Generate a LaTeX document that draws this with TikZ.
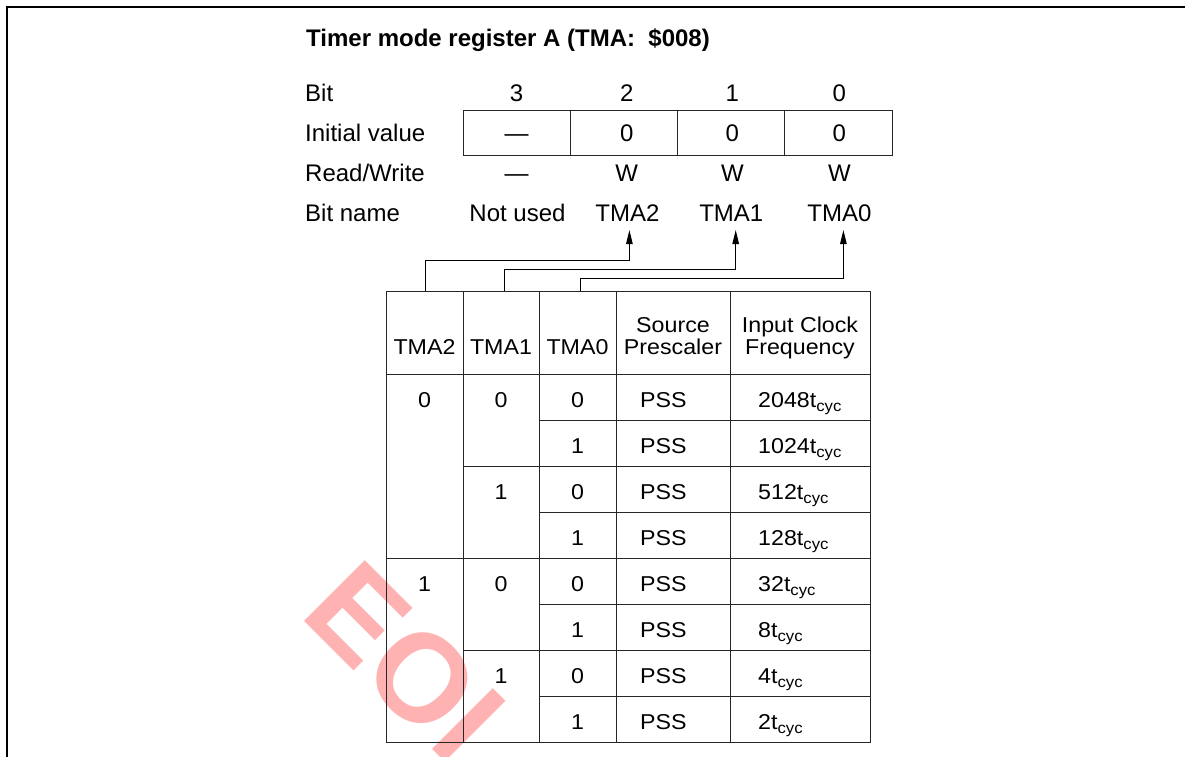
\documentclass[tikz,border=0pt]{standalone}
\usepackage{fontspec}
\setmainfont{Liberation Sans}
\newfontfamily\tabfont{Liberation Sans}[FakeStretch=1.08]
\usetikzlibrary{arrows.meta}
\begin{document}
\begin{tikzpicture}[x=1pt,y=-1pt,
  lbl/.style={inner sep=0pt, anchor=base west, font=\fontsize{24}{28}\selectfont},
  ctr/.style={inner sep=0pt, anchor=base, font=\fontsize{24}{28}\selectfont},
  tc/.style={inner sep=0pt, anchor=base, font=\tabfont\fontsize{21.5}{24}\selectfont},
  tl/.style={inner sep=0pt, anchor=base west, font=\tabfont\fontsize{21.5}{24}\selectfont},
  cell/.style={inner sep=0pt, outer sep=0pt, minimum height=83pt},
  gridline/.style={draw=black!85, line width=1pt},
  conn/.style={line width=1pt},
  arr/.style={conn, -{Triangle[length=14pt,width=6.5pt]}}]
\useasboundingbox (0,0) rectangle (1192,756);
\newcommand{\cyc}[1]{#1t\raisebox{-3.5pt}{\fontsize{15.5}{16}\selectfont cyc}}
% watermark
\node[anchor=base west, rotate=-45, inner sep=0pt, text=red!30,
      font=\fontsize{125}{125}\selectfont\bfseries] (wm) at (298.6,615.6) {EOI};
% frame
\draw[line width=2pt] (1185,7.3) -- (6.5,7.3) -- (6.5,757);
% title
\node[lbl, font=\fontsize{24}{28}\selectfont\bfseries] (title) at (306,46.5) {Timer mode register A (TMA:\ \ \$008)};
% row labels
\node[lbl] (lbit) at (305,101) {Bit};
\node[lbl] (linit) at (305,141) {Initial value};
\node[lbl] (lrw) at (305,181) {Read/Write};
\node[lbl] (lname) at (305,221) {Bit name};
% bit numbers
\node[ctr] (b3) at (516.5,101) {3};
\node[ctr] (b2) at (626.7,101) {2};
\node[ctr] (b1) at (732.4,101) {1};
\node[ctr] (b0) at (839.4,101) {0};
% register box
\draw[gridline] (463,110) rectangle (892,155);
\draw[gridline] (570.8,110) -- (570.8,155) (677.8,110) -- (677.8,155) (784.7,110) -- (784.7,155);
\node[ctr] (i3) at (516.5,141) {---};
\node[ctr] (i2) at (626.7,141) {0};
\node[ctr] (i1) at (732.4,141) {0};
\node[ctr] (i0) at (839.4,141) {0};
% read/write
\node[ctr] (w3) at (516.5,181) {---};
\node[ctr] (w2) at (626.7,181) {W};
\node[ctr] (w1) at (732.4,181) {W};
\node[ctr] (w0) at (839.4,181) {W};
% bit names
\node[ctr] (n3) at (517.5,221) {Not used};
\node[ctr] (n2) at (627.4,221) {TMA2};
\node[ctr] (n1) at (731.3,221) {TMA1};
\node[ctr] (n0) at (839.4,221) {TMA0};
% table grid
\draw[gridline] (386,291) rectangle (870,742);
\draw[gridline] (463,291) -- (463,742) (539,291) -- (539,742) (616,291) -- (616,742) (730,291) -- (730,742);
\draw[gridline] (386,374) -- (870,374) (386,558) -- (870,558);
\draw[gridline] (463,466) -- (870,466) (463,650) -- (870,650);
\draw[gridline] (539,420) -- (870,420) (539,512) -- (870,512) (539,604) -- (870,604) (539,696) -- (870,696);
% header cells
\node[cell, minimum width=77pt] (h2) at (424.5,332.5) {};
\node[cell, minimum width=76pt] (h1) at (501,332.5) {};
\node[cell, minimum width=77pt] (h0) at (577.5,332.5) {};
\node[tc] (t2) at (424.5,354) {TMA2};
\node[tc] (t1) at (501,354) {TMA1};
\node[tc] (t0) at (577.5,354) {TMA0};
\node[tc] (sp1) at (673,332) {Source};
\node[tc] (sp2) at (673,354) {Prescaler};
\node[tc] (ic1) at (800,332) {Input Clock};
\node[tc] (ic2) at (800,354) {Frequency};
% connectors
\draw[arr] ([xshift=1pt]h2.north) -- ++(0,-30.5) -| ([xshift=2pt,yshift=-9pt]n2.base);
\draw[arr] ([xshift=3pt]h1.north) -- ++(0,-22) -| ([xshift=4.4pt,yshift=-9pt]n1.base);
\draw[arr] ([xshift=2.5pt]h0.north) -- ++(0,-13) -| ([xshift=4pt,yshift=-9pt]n0.base);
% body
\node[tc] (a1) at (424.5,407.5) {0};
\node[tc] (a5) at (424.5,591.5) {1};
\node[tc] (b1r) at (501,407.5) {0};
\node[tc] (b3r) at (501,499.5) {1};
\node[tc] (b5r) at (501,591.5) {0};
\node[tc] (b7r) at (501,683.5) {1};
\foreach \k/\v/\f in {0/0/2048,1/1/1024,2/0/512,3/1/128,4/0/32,5/1/8,6/0/4,7/1/2}{
  \node[tc] (c\k) at (577.5,407.5+46*\k) {\v};
  \node[tl] (p\k) at (640,407.5+46*\k) {PSS};
  \node[tl] (f\k) at (758,407.5+46*\k) {\cyc{\f}};
}
\end{tikzpicture}
\end{document}
